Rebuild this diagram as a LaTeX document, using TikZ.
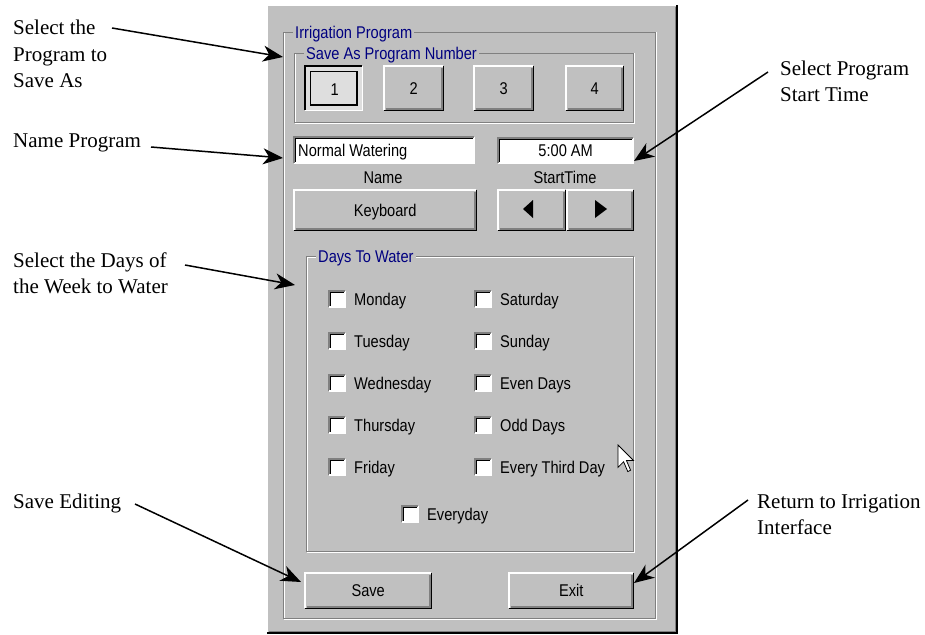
\documentclass[tikz,border=0pt]{standalone}
\usepackage{fontspec}
\setmainfont{Liberation Serif}
\newfontfamily\uifamily[FakeStretch=0.86]{Liberation Sans}
\usetikzlibrary{arrows.meta}
\definecolor{panel}{RGB}{192,192,192}
\definecolor{dkgray}{RGB}{128,128,128}
\definecolor{uiblue}{RGB}{0,0,128}
\definecolor{pressfill}{RGB}{222,222,222}
\newcommand\uitext{\uifamily\fontsize{17}{20}\selectfont}
\newcommand\notetext{\fontsize{21}{26}\selectfont}
\tikzset{
  btn/.style={anchor=north west, inner sep=0pt, fill=panel, font=\uitext, text height=12.2pt, text depth=0pt},
  field/.style={anchor=north west, inner sep=0pt, fill=white, font=\uitext, text height=12.2pt, text depth=0pt},
  lbl/.style={font=\uitext, inner sep=0pt, text height=12.2pt, text depth=0pt},
  grouptitle/.style={font=\uitext, text=uiblue, fill=panel, inner sep=2pt, anchor=west, text height=12.2pt, text depth=0pt},
  note/.style={font=\notetext, align=left, anchor=base west, inner sep=0pt},
  pointer/.style={line width=1.5pt, -{Stealth[length=20pt,width=16pt,inset=6pt]}},
  bevel/.style={line width=1.5pt},
}
\newcommand\raisedbevel[1]{%
  \draw[white,bevel] (#1.south west) -- (#1.north west) -- (#1.north east);
  \draw[black,bevel] (#1.south west) -- (#1.south east) -- (#1.north east);
  \draw[dkgray,bevel] ([shift={(1.5pt,1.5pt)}]#1.south west) -- ([shift={(-1.5pt,1.5pt)}]#1.south east) -- ([shift={(-1.5pt,-1.5pt)}]#1.north east);
}
\newcommand\sunkenbevel[1]{%
  \draw[dkgray,bevel] (#1.south west) -- (#1.north west) -- (#1.north east);
  \draw[white,bevel] (#1.south west) -- (#1.south east) -- (#1.north east);
  \draw[black,bevel] ([shift={(1.5pt,1.5pt)}]#1.south west) -- ([shift={(1.5pt,-1.5pt)}]#1.north west) -- ([shift={(-1.5pt,-1.5pt)}]#1.north east);
}
\newcommand\uibutton[6]{%
  \node[btn, minimum width={#4pt-#2pt}, minimum height={#5pt-#3pt}] (#1) at (#2,#3) {#6};
  \raisedbevel{#1}
}
\newcommand\groupbox[6]{%
  \draw[white, line width=1pt] (#2+1,#3+1) rectangle (#4+1,#5+1);
  \node[anchor=north west, draw=dkgray, line width=1pt, minimum width={#4pt-#2pt}, minimum height={#5pt-#3pt}, inner sep=0pt] (#1) at (#2,#3) {};
  \node[grouptitle] (#1t) at (#2+10,#3) {#6};
}
\newcommand\checkitem[4]{%
  \node[field, anchor=west, minimum width=16pt, minimum height=16pt] (#1) at (#2,#3) {};
  \sunkenbevel{#1}
  \node[lbl, anchor=west] (#1t) at (#2+25,#3) {#4};
}
\begin{document}
\begin{tikzpicture}[x=1pt,y=-1pt]
\useasboundingbox (0,0) rectangle (925,634);
\fill[white] (0,0) rectangle (925,634);

% main panel
\node[anchor=north west, fill=panel, minimum width=410pt, minimum height=628pt, inner sep=0pt] (panel) at (267,5) {};
\draw[white, line width=1.5pt] (panel.south west) -- (panel.north west) -- (panel.north east);
\draw[black, line width=2pt] (panel.south west) -- (panel.south east) -- (panel.north east);
\draw[dkgray, line width=1.2pt] ([shift={(2pt,2pt)}]panel.south west) -- ([shift={(-2pt,2pt)}]panel.south east) -- ([shift={(-2pt,-2pt)}]panel.north east);

% group boxes
\groupbox{grpirr}{283}{32}{655}{618}{Irrigation Program}
\groupbox{grpsave}{294}{53}{633}{122}{Save As Program Number}
\groupbox{grpdays}{306}{256}{633}{551}{Days To Water}

% program number buttons
\node[btn, fill=pressfill, minimum width=57pt, minimum height=44pt] (b1) at (305,66) {\raisebox{-1pt}{\hspace{2pt}1}};
\draw[black,bevel] (b1.south west) -- (b1.north west) -- (b1.north east);
\draw[white,bevel] (b1.south west) -- (b1.south east) -- (b1.north east);
\draw[black,bevel] ([shift={(5.5pt,5.5pt)}]b1.south west) rectangle ([shift={(-5.5pt,-5.5pt)}]b1.north east);
\uibutton{b2}{384}{66}{443}{110}{2}
\uibutton{b3}{474}{66}{533}{110}{3}
\uibutton{b4}{566}{66}{623}{110}{4}

% name and start time
\node[field, minimum width=180pt, minimum height=26pt] (namef) at (294,137) {};
\sunkenbevel{namef}
\node[lbl, anchor=west] (namev) at (298,150) {Normal Watering};
\node[field, minimum width=135pt, minimum height=25pt] (timef) at (498,138) {5:00 AM};
\sunkenbevel{timef}
\node[lbl] (namelbl) at (383,177) {Name};
\node[lbl] (timelbl) at (565,177) {StartTime};

\uibutton{kbd}{294}{190}{476}{230}{Keyboard}
\uibutton{lbtn}{498}{190}{565}{230}{}
\uibutton{rbtn}{567}{190}{633}{230}{}
\fill[black] (523,209) -- (533,200) -- (533,218) -- cycle;
\fill[black] (607,209) -- (595,200) -- (595,218) -- cycle;

% days
\checkitem{cmon}{329}{299}{Monday}
\checkitem{ctue}{329}{341}{Tuesday}
\checkitem{cwed}{329}{383}{Wednesday}
\checkitem{cthu}{329}{425}{Thursday}
\checkitem{cfri}{329}{467}{Friday}
\checkitem{csat}{475}{299}{Saturday}
\checkitem{csun}{475}{341}{Sunday}
\checkitem{ceven}{475}{383}{Even Days}
\checkitem{codd}{475}{425}{Odd Days}
\checkitem{cthird}{475}{467}{Every Third Day}
\checkitem{cevery}{402}{514}{Everyday}

% mouse cursor
\draw[black, fill=white, line width=0.8pt, line join=miter, shift={(618,445)}, scale=1.4]
  (0,0) -- (0,16) -- (4,12) -- (7,19) -- (9,18) -- (6,11) -- (11,11) -- cycle;

% save / exit
\uibutton{bsave}{305}{573}{431}{608}{Save}
\uibutton{bexit}{509}{573}{633}{608}{Exit}

% annotations (base = baseline of last line)
\node[note] (n1) at (13,87) {Select the\\Program to\\Save As};
\node[note] (n2) at (13,147) {Name Program};
\node[note] (n3) at (13,293) {Select the Days of\\the Week to Water};
\node[note] (n4) at (13,508) {Save Editing};
\node[note] (n5) at (780,101) {Select Program\\Start Time};
\node[note] (n6) at (757,534) {Return to Irrigation\\Interface};

\coordinate (s1) at (112,28);  \coordinate (t1) at (283,57);
\coordinate (s2) at (151,147); \coordinate (t2) at (283,158);
\coordinate (s3) at (185,265); \coordinate (t3) at (295,285);
\coordinate (s4) at (135,504); \coordinate (t4) at (301,582);
\coordinate (s5) at (768,72);  \coordinate (t5) at (634,161);
\coordinate (s6) at (748,500); \coordinate (t6) at (634,583);
\draw[pointer] (s1) -- (t1);
\draw[pointer] (s2) -- (t2);
\draw[pointer] (s3) -- (t3);
\draw[pointer] (s4) -- (t4);
\draw[pointer] (s5) -- (t5);
\draw[pointer] (s6) -- (t6);
\end{tikzpicture}
\end{document}
